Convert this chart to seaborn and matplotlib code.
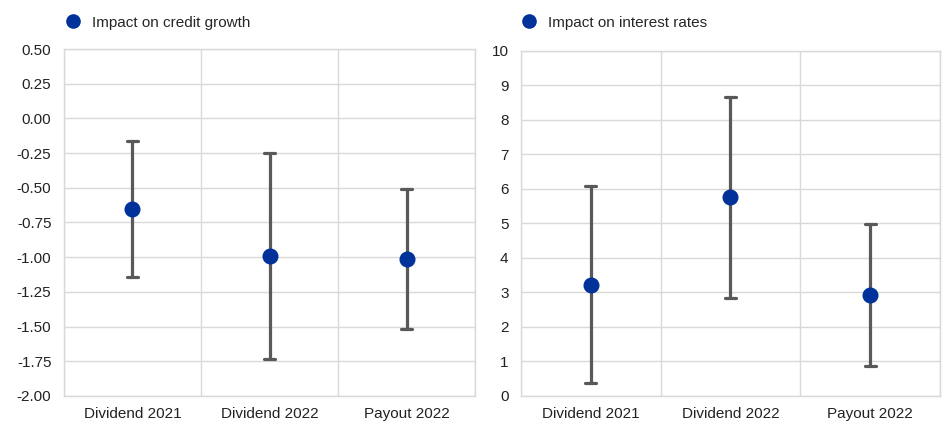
import pandas as pd
import matplotlib
matplotlib.use("Agg")
import matplotlib.pyplot as plt
import seaborn as sns
from matplotlib.lines import Line2D

# Categories and estimates (low, point, high)
categories = ["Dividend 2021", "Dividend 2022", "Payout 2022"]

credit_point = [-0.65, -0.99, -1.01]
credit_low = [-1.14, -1.73, -1.52]
credit_high = [-0.16, -0.25, -0.51]

rates_point = [3.22, 5.77, 2.93]
rates_low = [0.38, 2.84, 0.87]
rates_high = [6.08, 8.67, 4.98]

credit_ticks = [0.5, 0.25, 0.0, -0.25, -0.5, -0.75, -1.0, -1.25, -1.5, -1.75, -2.0]
rates_ticks = list(range(0, 11))

blue = "#003299"
grey = "#595959"
grid = "#d9d9d9"

sns.set_style("white")
plt.rcParams["font.family"] = ["Liberation Sans", "DejaVu Sans"]
plt.rcParams["font.size"] = 11


def long_frame(low, mid, high):
    rows = []
    for cat, lo, m, hi in zip(categories, low, mid, high):
        for v in (lo, m, hi):
            rows.append({"cat": cat, "value": v})
    return pd.DataFrame(rows)


def draw(ax, df, label, ticks, ylim, fmt, leg_y):
    sns.pointplot(
        data=df, x="cat", y="value", order=categories, ax=ax,
        estimator="median", errorbar=("pi", 100),
        color=blue, linestyle="none", markers="o", markersize=9.5,
        capsize=0.08, zorder=3,
        err_kws={"color": grey, "linewidth": 2.3, "zorder": 2},
    )
    ax.set_xlim(-0.5, 2.5)
    ax.set_ylim(*ylim)
    ax.set_yticks(ticks)
    ax.set_yticklabels([fmt(t) for t in ticks])
    ax.set_xticks([-0.5, 0.5, 1.5, 2.5], minor=True)
    ax.yaxis.grid(True, color=grid, linewidth=1)
    ax.xaxis.grid(True, which="minor", color=grid, linewidth=1)
    ax.set_axisbelow(True)
    for s in ax.spines.values():
        s.set_color(grid)
        s.set_linewidth(1)
    ax.tick_params(axis="both", which="both", length=0, colors="#222222", labelsize=11)
    ax.tick_params(axis="y", pad=9)
    ax.tick_params(axis="x", pad=8)
    ax.set_xlabel("")
    ax.set_ylabel("")
    handle = Line2D([], [], marker="o", linestyle="none", color=blue, markersize=9.5)
    ax.legend(handles=[handle], labels=[label], loc="center left",
              bbox_to_anchor=(-0.031, leg_y), frameon=False, fontsize=11,
              handletextpad=0.25, borderaxespad=0)


fig = plt.figure(figsize=(9.45, 4.21), dpi=100)
ax1 = fig.add_axes([0.0677, 0.0594, 0.435, 0.8242])
ax2 = fig.add_axes([0.5513, 0.0594, 0.4434, 0.8195])

draw(ax1, long_frame(credit_low, credit_point, credit_high),
     "Impact on credit growth", credit_ticks, (-2.0, 0.5), lambda t: f"{t:.2f}", 1.076)
draw(ax2, long_frame(rates_low, rates_point, rates_high),
     "Impact on interest rates", rates_ticks, (0, 10), lambda t: f"{t:d}", 1.082)

fig.savefig("out.png", dpi=100)
